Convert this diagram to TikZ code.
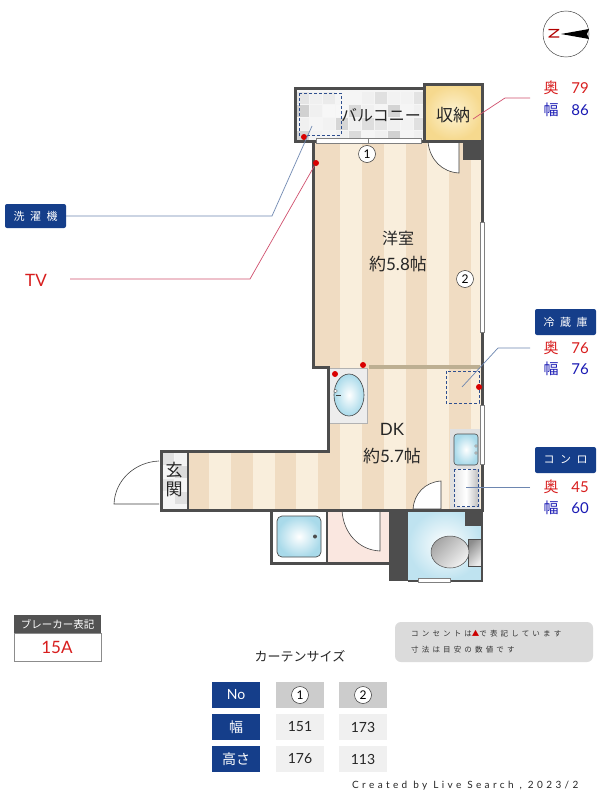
\documentclass[tikz,border=0pt]{standalone}
\usepackage{fontspec}
\setmainfont{Lato}
\newfontfamily\jpf{Noto Sans CJK JP}
\newfontfamily\jpw[LetterSpace=50]{Noto Sans CJK JP}
\newfontfamily\jpn[LetterSpace=42]{Noto Sans CJK JP}
\newfontfamily\latw[LetterSpace=34]{Lato}
\newcommand{\fsz}[1]{\fontsize{#1}{#1}\selectfont}
\definecolor{wall}{HTML}{4D4D4D}
\definecolor{navy}{HTML}{153E8A}
\definecolor{stripeD}{HTML}{F0DCC2}
\definecolor{stripeL}{HTML}{F9EEDC}
\definecolor{redtxt}{HTML}{D81E1E}
\definecolor{bluetxt}{HTML}{1A1AB4}
\definecolor{leadB}{HTML}{6D86B0}
\definecolor{leadR}{HTML}{D0506E}
\definecolor{dashB}{HTML}{2F4F8F}
\definecolor{water}{HTML}{A9DAEA}
\definecolor{pale}{HTML}{BFE3F0}
\definecolor{pinkfl}{HTML}{FAE7E0}
\definecolor{goldE}{HTML}{F6D98E}
\definecolor{goldC}{HTML}{FDF3D3}
\definecolor{tan}{HTML}{BDAF92}
\tikzset{
  wallline/.style={draw=wall,line width=3pt,line join=miter},
  leadblue/.style={draw=leadB,line width=0.7pt},
  leadred/.style={draw=leadR,line width=0.7pt},
  dashbox/.style={draw=dashB,line width=0.7pt,dash pattern=on 3pt off 2pt},
  tag/.style={fill=navy,rounded corners=2pt,text=white,inner sep=0pt,font=\jpw\fsz{11}},
  rtxt/.style={text=redtxt,inner sep=0pt,font=\jpf\fsz{15}},
  btxt/.style={text=bluetxt,inner sep=0pt,font=\jpf\fsz{15}},
  rnum/.style={text=redtxt,inner sep=0pt,font=\fsz{15}},
  bnum/.style={text=bluetxt,inner sep=0pt,font=\fsz{15}},
  roomtxt/.style={inner sep=0pt,text=black!85,font=\fsz{17}},
  dot/.style={fill=red!85!black,circle,inner sep=0pt,minimum size=6pt},
  numcirc/.style={draw=black!80,fill=white,circle,inner sep=0pt,minimum size=17pt,line width=0.5pt,font=\fsz{12}},
  doorleaf/.style={draw=black!75,fill=white,line width=0.6pt},
  thead/.style={fill=navy,text=white,minimum width=48pt,minimum height=26pt,inner sep=0pt,font=\fsz{14}},
  tgrey/.style={fill=black!20,minimum width=48pt,minimum height=26pt,inner sep=0pt},
  tcell/.style={fill=black!6,minimum width=48pt,minimum height=26pt,inner sep=0pt,text=black!85,font=\fsz{14}},
  tnum/.style={draw=black!80,fill=white,circle,inner sep=0pt,minimum size=17pt,line width=0.5pt,font=\fsz{12}}
}
\begin{document}
\begin{tikzpicture}[x=1pt,y=-1pt]
\useasboundingbox (0,0) rectangle (600,800);
\fill[white] (0,0) rectangle (600,800);
% floors with stripes
\begin{scope}
\clip (313,141) -- (482,141) -- (482,510) -- (188,510) -- (188,450) -- (328,450) -- (328,367) -- (313,367) -- cycle;
\fill[stripeL] (150,130) rectangle (490,520);
\foreach \sx in {187.5,231,274.6,318.2,362,405.5,449}{
  \fill[stripeD] (\sx,130) rectangle (\sx+21.7,520);
}
\fill[stripeD] (315,141) rectangle (340,367);
\end{scope}
% balcony tiles
\fill[black!4] (295,88) rectangle (424,141);
\foreach \tx/\ty/\tg in {
 296/91/10,309/91/6,322/91/8,335/91/4,348/91/4,361/91/6,374/91/12,387/91/5,400/91/5,413/91/11,
 296/104/18,309/104/6,322/104/3,335/104/3,348/104/15,361/104/6,374/104/4,387/104/17,400/104/4,413/104/6,
 296/117/6,309/117/4,322/117/5,335/117/16,348/117/6,361/117/13,374/117/10,387/117/6,400/117/5,413/117/12,
 296/130/17,309/130/5,322/130/4,335/130/6,348/130/14,361/130/4,374/130/6,387/130/18,400/130/4,413/130/6}{
  \fill[black!\tg] (\tx+0.5,\ty+0.5) rectangle (\tx+12.5,\ty+12.5);
}
% storage
\shade[inner color=goldC,outer color=goldE] (424,85) rectangle (482,140);
% genkan tiles
\fill[black!4] (161,451) rectangle (188,509);
\foreach \tx/\ty/\tg in {162/453/12,175/453/5,162/466/4,175/466/14,162/479/10,175/479/4,162/492/4,175/492/12}{
  \fill[black!\tg] (\tx,\ty) rectangle (\tx+12,\ty+12);
}
% bath
\fill[white] (271,510) rectangle (327,563);
\fill[pinkfl] (327,510) rectangle (389,563);
\shade[inner color=white,outer color=water,draw=wall,line width=0.7pt,rounded corners=5pt] (277,516) rectangle (321,557);
\fill[wall] (315,536.5) circle (2pt);
% toilet
\shade[inner color=white,outer color=pale] (408,510) rectangle (482,580);
\fill[wall] (389,510) rectangle (408,581);
\fill[wall] (465,510) rectangle (482,526);
\shade[left color=black!45,right color=black!8,shading angle=45,draw=black!70,line width=0.5pt] (468,539) rectangle (481,566);
\shade[left color=black!35,right color=black!5,shading angle=45,draw=black!70,line width=0.5pt] (450,552) ellipse (19 and 16);
% wash basin
\fill[black!7,draw=black!30,line width=0.4pt] (329,368) rectangle (367,423);
\shade[inner color=white,outer color=water,draw=black!75,line width=0.6pt] (349,395) ellipse (15 and 21);
\draw[black!75,line width=0.8pt] (336,395) -- (341,395);
\fill[white,draw=black!60,line width=0.3pt] (335.5,391) circle (1.8pt);
% kitchen
\fill[black!12] (450,429) rectangle (480,509);
\shade[inner color=white,outer color=water,draw=black!70,line width=0.6pt,rounded corners=3pt] (454,434) rectangle (478,465);
\draw[black!60,fill=white,line width=0.3pt] (476,446) circle (1.4pt) (476,453) circle (1.4pt);
\shade[left color=black!10,right color=black!25,middle color=white] (454,469) rectangle (478,506);
\draw[dashbox] (454,469) rectangle (478,506);
% dashed boxes
\draw[dashbox] (299,93) rectangle (341,135);
\draw[dashbox] (446,371) rectangle (479,403);
% doors
\draw[doorleaf] (428,142) -- (459,142) -- (459,173) .. controls (442,172) and (430,160) .. (428,142);
\draw[doorleaf] (441,509) -- (441,481) .. controls (425,482) and (414,494) .. (413,509) -- cycle;
\draw[doorleaf] (380,510) -- (380,551) .. controls (358,550) and (343,532) .. (342,510) -- cycle;
\draw[black!75,line width=0.6pt] (159,504) -- (114,504) .. controls (115,480) and (135,462) .. (159,461);
% walls
\draw[wallline] (295,88) rectangle (424,141);
\draw[wallline] (424,84) rectangle (482,141);
\draw[wallline] (313,141) -- (313,367) -- (328,367) -- (328,451) -- (161,451) -- (161,510) -- (482,510) -- (482,141);
\draw[wall,line width=2.5pt] (188,451) -- (188,510);
\draw[wallline] (271,510) -- (271,563) -- (389,563);
\draw[wall,line width=1.5pt] (327,510) -- (327,563);
\draw[wall,line width=2pt] (408,580.5) -- (482,580.5) -- (482,510);
\fill[wall] (463,141) rectangle (482,160);
% divider & windows
\fill[tan] (369,365.2) rectangle (480,368.5);
\draw[fill=white,draw=black!50,line width=0.4pt] (316,138.5) rectangle (421,143.5);
\draw[black!50,line width=0.4pt] (368,138.5) -- (368,143.5);
\draw[fill=white,draw=black!50,line width=0.4pt] (480.5,222) rectangle (484,332);
\draw[fill=white,draw=black!50,line width=0.4pt] (480.5,405) rectangle (484,464);
\draw[fill=white,draw=black!50,line width=0.4pt] (418,578) rectangle (450,582);
% outlets
\node[dot] (o1) at (304,137) {};
\node[dot] (o2) at (316,163) {};
\node[dot] (o3) at (363,365) {};
\node[dot] (o4) at (335,374) {};
\node[dot] (o5) at (479,387) {};
% room labels
\node[roomtxt,font=\jpf\fsz{16}] (balc) at (381,115) {バルコニー};
\node[roomtxt,font=\jpf\fsz{17}] (stor) at (453,115) {収納};
\node[roomtxt,font=\jpf\fsz{16}] (yo) at (398,238) {洋室};
\node[roomtxt] (yo2) at (398,264) {{\jpf 約}5.8{\jpf 帖}};
\node[roomtxt] (dk) at (392,429) {DK};
\node[roomtxt] (dk2) at (392,456) {{\jpf 約}5.7{\jpf 帖}};
\node[roomtxt,font=\jpf\fsz{17}] (gen) at (174,470) {玄};
\node[roomtxt,font=\jpf\fsz{17}] (kan) at (174,489) {関};
\node[numcirc] (c1) at (367,154) {1};
\node[numcirc] (c2) at (465,279) {2};
% leaders
\node[tag,minimum width=61pt,minimum height=24pt] (wm) at (35.5,216) {洗濯機};
\coordinate (wmE) at (312,126);
\draw[leadblue] (wm.east) -- (272,216) -- (wmE);
\node[inner sep=0pt,text=redtxt,font=\fsz{17}] (tv) at (36,280) {TV};
\coordinate (tvS) at (70,279);
\draw[leadred] (tvS) -- (250,279) -- (o2);
\coordinate (stE) at (473,119);
\coordinate (stS) at (530,98);
\draw[leadred] (stS) -- (505,98) -- (stE);
\node[tag,minimum width=61pt,minimum height=26pt] (fr) at (565.5,322) {冷蔵庫};
\coordinate (frS) at (530,348);
\coordinate (frE) at (462,387);
\draw[leadblue] (frS) -- (498,348) -- (frE);
\node[tag,minimum width=61pt,minimum height=26pt] (st) at (565.5,460) {コンロ};
\coordinate (coS) at (530,487);
\coordinate (coE) at (466,487);
\draw[leadblue] (coS) -- (coE);
% dimensions
\node[rtxt] (a1) at (551,88) {奥};
\node[rnum] (a2) at (580,88) {79};
\node[btxt] (a3) at (551,110) {幅};
\node[bnum] (a4) at (580,110) {86};
\node[rtxt] (b1) at (551,348) {奥};
\node[rnum] (b2) at (580,348) {76};
\node[btxt] (b3) at (551,369) {幅};
\node[bnum] (b4) at (580,369) {76};
\node[rtxt] (d1) at (551,487) {奥};
\node[rnum] (d2) at (580,487) {45};
\node[btxt] (d3) at (551,508) {幅};
\node[bnum] (d4) at (580,508) {60};
% compass
\draw[black!70,line width=0.5pt,fill=white] (566,34) circle (23);
\node[inner sep=0pt,rotate=90,text=red!70!black,font=\fsz{15}] (north) at (554,34) {N};
\fill[black] (561,34) -- (589,29) -- (587,34) -- (589,39) -- cycle;
% breaker
\fill[white,draw=black!45,line width=0.7pt] (14,633) rectangle (101,661);
\node[fill=black!68,text=white,minimum width=87pt,minimum height=18pt,inner sep=0pt,font=\jpf\fsz{10.5}] (bh) at (57.5,624) {ブレーカー表記};
\node[inner sep=0pt,text=redtxt,font=\fsz{17}] (ba) at (57,647) {15A};
% title
\node[inner sep=0pt,text=black!85,font=\jpf\fsz{13}] (ct) at (300,656) {カーテンサイズ};
% note
\fill[black!14,rounded corners=6pt] (395,622) rectangle (593,662);
\node[anchor=west,inner sep=0pt,text=black!80,font=\jpn\fsz{7.5}] (n1) at (411,634) {コンセントは{\color{red!80!black}▲}で表記しています};
\node[anchor=west,inner sep=0pt,text=black!80,font=\jpn\fsz{7.5}] (n2) at (411,650) {寸法は目安の数値です};
% table
\node[thead] (t1) at (236,695) {No};
\node[thead,font=\jpf\fsz{14}] (t2) at (236,727) {幅};
\node[thead,font=\jpf\fsz{14}] (t3) at (236,759) {高さ};
\node[tgrey] (g1) at (300,695) {};
\node[tgrey] (g2) at (363,695) {};
\node[tnum] (g1n) at (300,695) {1};
\node[tnum] (g2n) at (363,695) {2};
\node[tcell] (w1) at (300,727) {151};
\node[tcell] (w2) at (363,727) {173};
\node[tcell] (h1) at (300,759) {176};
\node[tcell] (h2) at (363,759) {113};
% credit
\node[anchor=west,inner sep=0pt,text=black!85,font=\latw\fsz{10}] (cr) at (352,786) {Created by Live Search , 2023/2};
\end{tikzpicture}
\end{document}
